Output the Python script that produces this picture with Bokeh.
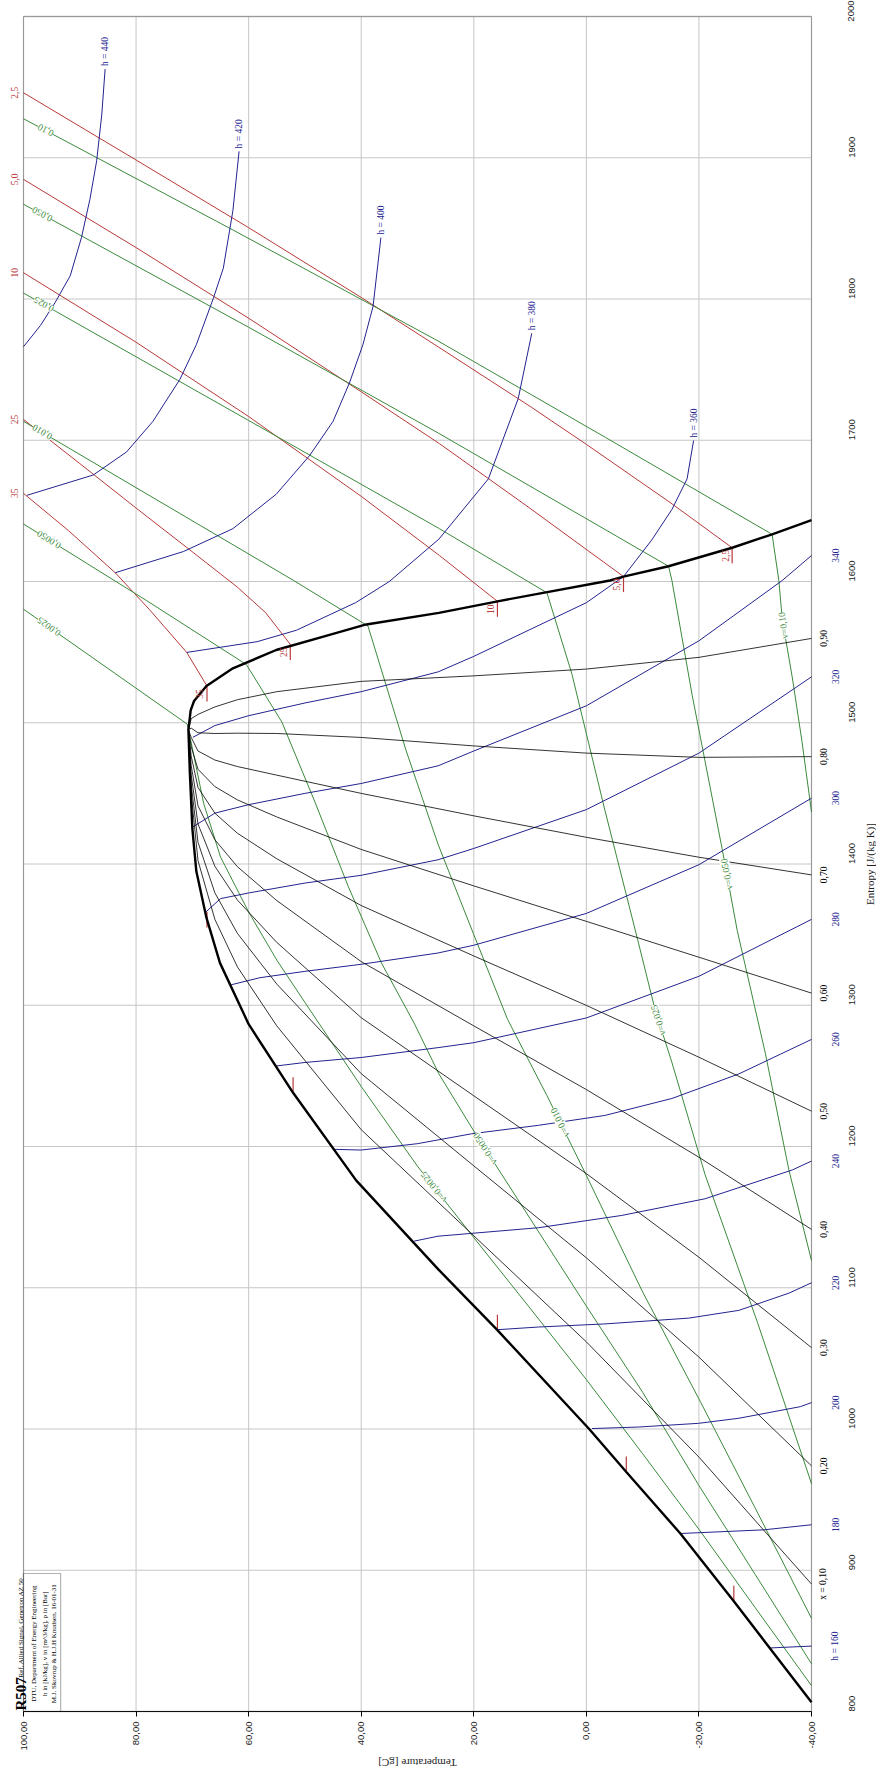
import math
import numpy as np
from bokeh.plotting import figure
from bokeh.models import (Range1d, FixedTicker, LabelSet, ColumnDataSource, Label,
                          BoxAnnotation, CustomJSTickFormatter)
from bokeh.core.properties import value
from bokeh.embed import file_html
from bokeh.resources import INLINE

# ---------------- axes ----------------
T_TICKS = [100, 80, 60, 40, 20, 0, -20, -40]
T_TICK_LABELS = ["100,00", "80,00", "60,00", "40,00", "20,00", "0,00", "-20,00", "-40,00"]
S_TICKS = [800, 900, 1000, 1100, 1200, 1300, 1400, 1500, 1600, 1700, 1800, 1900, 2000]
S_TICK_LABELS = ["800", "900", "1000", "1100", "1200", "1300", "1400", "1500",
                 "1600", "1700", "1800", "1900", "2000"]
T_MIN, T_MAX = -40, 100
S_MIN, S_MAX = 800, 2000

# ---------------- saturation dome (T degC, s J/(kg K)) ----------------
liq_T = [-40, -26.2, -16.7, -7.1, -0.5, 15.8, 26.3, 40.9, 52.1, 60.0, 65.1, 67.5, 69.3, 70.0, 70.45, 70.7]
liq_s = [806.5, 878.0, 926.0, 969.5, 1000.0, 1070.0, 1113.0, 1176.0, 1238.0, 1286.6, 1330.0, 1362.0, 1395.0, 1425.0, 1465.0, 1495.0]
vap_T = [70.7, 70.3, 69.7, 67.5, 62.8, 55.1, 45.0, 39.1, 26.2, 16.0, -4.2, -6.6, -14.6, -25.9, -33.0, -40]
vap_s = [1495.0, 1508.7, 1515.4, 1526.0, 1538.5, 1551.5, 1562.9, 1569.6, 1577.8, 1585.8, 1600.7, 1603.5, 1610.8, 1623.9, 1633.4, 1643.4]

# ---------------- quality lines ----------------
quality_T = [-40, -20, 0, 20, 40, 55, 62, 66, 69, 70.2, 70.7]
x10_s = [890.2, 980.1, 1061.7, 1136.8, 1211.9, 1285.4, 1327.2, 1360.8, 1402.4, 1449.7, 1495]
x20_s = [973.9, 1050.9, 1121.2, 1186.3, 1251.6, 1315.0, 1350.9, 1379.6, 1415.4, 1456.3, 1495]
x30_s = [1057.6, 1121.6, 1180.8, 1235.9, 1291.2, 1344.5, 1374.5, 1398.4, 1428.3, 1463.0, 1495]
x40_s = [1141.3, 1192.4, 1240.3, 1285.4, 1330.9, 1374.1, 1398.1, 1417.2, 1441.2, 1469.6, 1495]
x50_s = [1225.0, 1263.2, 1299.9, 1334.9, 1370.6, 1403.7, 1421.8, 1436.0, 1454.2, 1476.3, 1495]
x60_s = [1308.6, 1334.0, 1359.4, 1384.5, 1410.3, 1433.3, 1445.4, 1454.8, 1467.1, 1482.9, 1495]
x70_s = [1392.3, 1404.8, 1418.9, 1434.1, 1450.0, 1462.9, 1469.0, 1473.6, 1480.0, 1489.6, 1495]
x80_s = [1476.0, 1475.5, 1478.5, 1483.6, 1489.6, 1492.4, 1492.6, 1492.4, 1492.9, 1496.2, 1495]
x90_s = [1559.7, 1546.3, 1538.0, 1533.2, 1529.3, 1522.0, 1516.3, 1511.2, 1505.9, 1502.9, 1495]
quality_labels = ["x = 0,10", "0,20", "0,30", "0,40", "0,50", "0,60", "0,70", "0,80", "0,90"]

# ---------------- enthalpy lines (kJ/kg) ----------------
h160_T = [-40, -36, -32.7];                       h160_s = [846.3, 845.6, 845.0]
h180_T = [-40, -31.5, -16.7];                     h180_s = [932.2, 928.6, 926.0]
h200_T = [-40, -38, -27.1, -19.9, -9.3, -1.0];    h200_s = [1018.7, 1015.8, 1007.6, 1004.0, 1001.4, 1000.3]
h220_T = [-40, -36, -27.1, -18.2, -3.3, 8.5, 15.8]
h220_s = [1103.5, 1096.2, 1084.0, 1078.5, 1074.4, 1072.2, 1070.3]
h240_T = [-40, -36.6, -21.1, -6.3, 8.5, 26.35, 30.6]
h240_s = [1189.7, 1183.4, 1163.0, 1151.2, 1142.5, 1136.5, 1133.0]
h260_T = [-40, -27.1, -15.2, -3.3, 8.5, 20.4, 30, 40, 45]
h260_s = [1275.8, 1251.4, 1234.0, 1222.0, 1215.0, 1209.0, 1202.0, 1197.5, 1198.0]
h280_T = [-40, -20, 0, 20, 26.35, 40, 50, 55.1]
h280_s = [1360.8, 1320.5, 1291.0, 1273.5, 1270.0, 1263.0, 1259.5, 1257.0]
h300_T = [-40, -20, 0, 20, 26.35, 40, 50, 58, 63.1]
h300_s = [1446.6, 1399.5, 1365.0, 1342.5, 1337.0, 1329.0, 1324.0, 1319.5, 1314.5]
h320_T = [-40, -20, 0, 20, 26.35, 40, 50, 60, 65, 67.6]
h320_s = [1532.5, 1478.5, 1438.5, 1411.0, 1403.0, 1392.0, 1386.5, 1379.5, 1375.5, 1366.0]
h340_T = [-40, -34.8, -20, 0, 20, 26.35, 40, 50, 60, 66, 70]
h340_s = [1618.4, 1600.7, 1558.0, 1512.0, 1480.0, 1469.5, 1457.0, 1450.0, 1442.0, 1436.0, 1426.0]
h360_T = [-19.05, -17.9, -15.2, -11.6, -6.6, 0, 10, 20, 26.35, 40, 50, 60, 66, 69.9]
h360_s = [1699.8, 1672.7, 1651.0, 1629.3, 1603.5, 1585.0, 1566.0, 1547.0, 1536.0, 1522.0, 1514.0, 1505.0, 1498.0, 1489.7]
h380_T = [9.7, 12.1, 17.4, 26.2, 35, 41, 51.5, 58.5, 71]
h380_s = [1775.7, 1729.6, 1672.7, 1630.0, 1600.0, 1585.0, 1565.5, 1557.4, 1549.8]
h400_T = [36.5, 37.9, 39.7, 42.1, 45.0, 49.2, 55.1, 62.8, 71.6, 83.7]
h400_s = [1843.5, 1794.7, 1767.6, 1740.5, 1713.4, 1689.0, 1661.8, 1637.4, 1621.2, 1606.2]
h420_T = [61.7, 62.8, 64.5, 66.3, 69.3, 72.2, 77.0, 81.7, 87.6, 99.4]
h420_s = [1904.5, 1862.5, 1821.8, 1800.1, 1767.6, 1743.2, 1713.4, 1691.7, 1675.4, 1661.0]
h440_T = [85.5, 86.1, 87.0, 88.2, 89.7, 91.7, 94.4, 97.0, 100]
h440_s = [1962.8, 1930.3, 1897.8, 1870.6, 1843.5, 1816.4, 1797.4, 1781.2, 1766.2]
h_edge_labels = ["h = 160", "180", "200", "220", "240", "260", "280", "300", "320", "340"]
h_top_labels = ["h = 360", "h = 380", "h = 400", "h = 420", "h = 440"]

# ---------------- isobars (bar) ----------------
p2_5_T = [100, 80, 60, 40, 26.35, 10, 0, -15, -25.9]
p2_5_s = [1946.0, 1898.4, 1850.5, 1801.1, 1766.2, 1724.0, 1697.1, 1655.6, 1623.9]
p5_T = [100, 80, 60, 40, 26.1, 10, -6.6]
p5_s = [1884.7, 1836.4, 1786.4, 1734.3, 1697.6, 1651.8, 1603.5]
p10_T = [100, 80, 60, 40, 26.1, 15.8]
p10_s = [1818.6, 1769.4, 1716.8, 1660.3, 1618.4, 1586.0]
p25_T = [100, 90, 80, 70, 62, 57, 52.6]
p25_s = [1714.7, 1683.5, 1652.0, 1621.0, 1596.0, 1578.0, 1555.5]
p35_T = [100, 92, 83.7, 77.6, 71, 67.4]
p35_s = [1662.4, 1636.0, 1606.2, 1580.0, 1549.8, 1526.0]
p_labels = ["2,5", "5,0", "10", "25", "35"]
psat_liq_T = [-26.2, -7.1, 15.8, 52.1, 67.4]
psat_liq_s = [878.0, 969.5, 1070.0, 1238.0, 1355.0]

# ---------------- isochores (m3/kg) ----------------
v_10_T = [100, 62.8, 26.35, -3.4, -33.0, -34.2, -34.8, -36.6, -38.3, -40]
v_10_s = [1927.6, 1848.9, 1770.3, 1702.0, 1633.4, 1600.7, 1573.5, 1531.7, 1487.0, 1436.9]
v_050_T = [100, 60, 26.35, -14.6, -15.2, -18.8, -24.1, -26.8, -31.8, -36.0, -40]
v_050_s = [1867.1, 1780.0, 1705.2, 1610.8, 1600.7, 1519.5, 1411.2, 1353.0, 1266.0, 1183.0, 1119.3]
v_025_T = [100, 60, 26.1, 7.0, 2.6, -3.3, -9.3, -12.2, -15.2, -21.1, -30.4, -40]
v_025_s = [1804.2, 1714.0, 1637.4, 1592.0, 1535.0, 1438.0, 1343.5, 1297.0, 1259.5, 1180.0, 1075.5, 961.3]
v_010_T = [100, 52, 38.8, 32, 26.35, 20, 14, 7, 0.3, -10, -20.3, -30, -40]
v_010_s = [1713.4, 1600.7, 1568.5, 1480.0, 1414.0, 1350.0, 1290.0, 1236.0, 1182.0, 1097.0, 1019.0, 944.0, 866.0]
v_0050_T = [100, 78.1, 60.4, 54.1, 48.2, 42.3, 36.4, 30.5, 26.2, 20, 10, 0, -10, -20, -30, -40]
v_0050_s = [1640.7, 1586.4, 1541.2, 1500.5, 1443.7, 1384.1, 1329.9, 1286.6, 1251.4, 1211.0, 1149.0, 1087.0, 1026.0, 960.0, 897.0, 833.8]
v_0025_T = [100, 70.9, 70.0, 68, 65, 60, 55, 50, 40, 30, 20, 10, 0, -10, -20, -30, -40]
v_0025_s = [1580.4, 1499.0, 1482.0, 1443.0, 1405.0, 1366.0, 1332.0, 1302.0, 1242.5, 1186.0, 1135.5, 1085.5, 1035.0, 982.5, 929.0, 873.5, 818.3]
v_left_labels = ["0,10", "0,050", "0,025", "0,010", "0,0050", "0,0025"]
v_left_T = [96.1, 96.7, 96.4, 96.7, 95.5, 95.5]
v_dome_labels = ["v=0,10", "v=0,050", "v=0,025", "v=0,010", "v=0,0050", "v=0,0025"]
v_dome_T = [-35.0, -24.95, -12.8, 4.65, 17.97, 27.1]

# ---------------- styling / layout ----------------
CANVAS_W, CANVAS_H = 876, 1771
FRAME_L, FRAME_T, FRAME_W, FRAME_H = 23, 16, 788, 1695
KX = FRAME_W / (T_MAX - T_MIN)
KY = FRAME_H / (S_MAX - S_MIN)
RED, GREEN, BLUE = "#b83a3a", "#3b8a3b", "#23238f"
GRID = "#c6c6c6"
SERIF, SANS = "Liberation Serif", "Liberation Sans"

x_start = T_MAX + FRAME_L / KX
x_end = T_MIN - (CANVAS_W - FRAME_L - FRAME_W) / KX
y_end = S_MAX + FRAME_T / KY
y_start = S_MIN - (CANVAS_H - FRAME_T - FRAME_H) / KY

p = figure(width=CANVAS_W, height=CANVAS_H, x_range=Range1d(x_start, x_end),
           y_range=Range1d(y_start, y_end), output_backend="svg", toolbar_location=None,
           y_axis_location="right", min_border=0)
p.background_fill_color = "white"
p.border_fill_color = "white"
p.outline_line_color = None
p.grid.visible = False

fmt_code = "const i = t.indexOf(tick); return i < 0 ? '' : l[i];"
xa = p.xaxis[0]
xa.fixed_location = S_MIN
xa.bounds = (T_MIN, T_MAX)
xa.ticker = FixedTicker(ticks=T_TICKS)
xa.formatter = CustomJSTickFormatter(args=dict(t=T_TICKS, l=T_TICK_LABELS), code=fmt_code)
xa.major_label_orientation = math.pi / 2
xa.major_label_text_font = SANS
xa.major_label_text_font_size = "9.5px"
xa.major_label_text_color = "#222222"
xa.major_tick_in = 0
xa.major_tick_out = 5
xa.major_label_standoff = 5
xa.minor_tick_line_color = None
xa.axis_line_color = "black"

ya = p.yaxis[0]
ya.fixed_location = T_MIN
ya.bounds = (S_MIN, S_MAX)
ya.ticker = FixedTicker(ticks=S_TICKS)
ya.formatter = CustomJSTickFormatter(args=dict(t=S_TICKS, l=S_TICK_LABELS), code=fmt_code)
ya.major_label_orientation = math.pi / 2
ya.major_label_text_font = SANS
ya.major_label_text_font_size = "9.5px"
ya.major_label_text_color = "#222222"
ya.major_tick_in = 0
ya.major_tick_out = 0
ya.major_label_standoff = 40
ya.minor_tick_line_color = None
ya.axis_line_color = None

# grid lines within the diagram frame
p.segment(x0=T_TICKS, y0=[S_MIN] * len(T_TICKS), x1=T_TICKS, y1=[S_MAX] * len(T_TICKS),
          line_color=GRID, line_width=1)
p.segment(x0=[T_MAX] * len(S_TICKS), y0=S_TICKS, x1=[T_MIN] * len(S_TICKS), y1=S_TICKS,
          line_color=GRID, line_width=1)

# ---------------- lines ----------------
isobars = [(p2_5_T, p2_5_s), (p5_T, p5_s), (p10_T, p10_s), (p25_T, p25_s), (p35_T, p35_s)]
isochores = [(v_10_T, v_10_s), (v_050_T, v_050_s), (v_025_T, v_025_s),
             (v_010_T, v_010_s), (v_0050_T, v_0050_s), (v_0025_T, v_0025_s)]
hlines = [(h160_T, h160_s), (h180_T, h180_s), (h200_T, h200_s), (h220_T, h220_s),
          (h240_T, h240_s), (h260_T, h260_s), (h280_T, h280_s), (h300_T, h300_s),
          (h320_T, h320_s), (h340_T, h340_s), (h360_T, h360_s), (h380_T, h380_s),
          (h400_T, h400_s), (h420_T, h420_s), (h440_T, h440_s)]
qlines = [x10_s, x20_s, x30_s, x40_s, x50_s, x60_s, x70_s, x80_s, x90_s]

for T, s in isobars:
    p.line(T, s, line_color=RED, line_width=1)
for T, s in isochores:
    p.line(T, s, line_color=GREEN, line_width=1)
for T, s in hlines:
    p.line(T, s, line_color=BLUE, line_width=1)
for s in qlines:
    p.line(quality_T, s, line_color="black", line_width=0.8)

# saturation ticks of isobars
TICK = 11.0
vapT = [T[-1] for T, s in isobars]
vapS = [s[-1] for T, s in isobars]
p.segment(x0=vapT, y0=vapS, x1=vapT, y1=[v - TICK for v in vapS], line_color=RED, line_width=1.2)
p.segment(x0=psat_liq_T, y0=psat_liq_s, x1=psat_liq_T, y1=[v + TICK for v in psat_liq_s],
          line_color=RED, line_width=1.2)

# dome
p.line(liq_T + vap_T, liq_s + vap_s, line_color="black", line_width=2.4)

# frame of the diagram
p.add_layout(BoxAnnotation(left=T_MAX, right=T_MIN, bottom=S_MIN, top=S_MAX, fill_color=None,
                           fill_alpha=0, line_color="#333333", line_width=1.3))


# ---------------- labels ----------------
def interp_on(Tq, T, s):
    T = np.asarray(T, float)
    s = np.asarray(s, float)
    o = np.argsort(T, kind="stable")
    return float(np.interp(Tq, T[o], s[o]))


def along(Tq, T, s, d=1.0):
    sa = interp_on(Tq + d, T, s)
    sb = interp_on(Tq - d, T, s)
    return math.atan2((sa - sb) * KY, -(2 * d) * KX)


def labelset(xs, ys, texts, color, size, angle, align="center", baseline="middle",
             xoff=0, yoff=0, font=SERIF, bg=None):
    data = dict(x=list(xs), y=list(ys), t=list(texts))
    if isinstance(angle, (list, tuple)):
        data["a"] = list(angle)
        ang = "a"
    else:
        ang = angle
    src = ColumnDataSource(data)
    ls = LabelSet(x="x", y="y", text="t", source=src, angle=ang, text_color=color,
                  text_font=value(font), text_font_size=size, text_align=align,
                  text_baseline=baseline, x_offset=xoff, y_offset=yoff,
                  background_fill_color=bg)
    p.add_layout(ls)


# quality labels at right edge
labelset([T_MIN] * 9, [s[0] for s in qlines], quality_labels, "black", "9.5px", math.pi / 2, xoff=12)
# enthalpy labels at right edge
labelset([T_MIN] * 10, [s[0] for T, s in hlines[:10]], h_edge_labels,
         BLUE, "9.5px", math.pi / 2, xoff=24)
# enthalpy labels at top of superheated lines
labelset([T[0] for T, s in hlines[10:]], [s[0] for T, s in hlines[10:]], h_top_labels,
         BLUE, "9.5px", math.pi / 2, align="left", yoff=3)
# isobar labels at left edge
labelset([T[0] for T, s in isobars], [s[0] for T, s in isobars], p_labels,
         RED, "9.5px", math.pi / 2, xoff=-9)
# isobar labels at the vapour line
labelset(vapT, vapS, p_labels, RED, "9.5px", math.pi / 2, xoff=-7, yoff=-8)
# isochore labels near the left edge
labelset(v_left_T, [interp_on(t, T, s) for t, (T, s) in zip(v_left_T, isochores)],
         v_left_labels, GREEN, "9.5px",
         [along(t, T, s) for t, (T, s) in zip(v_left_T, isochores)], bg="white")
# isochore labels inside the dome
labelset(v_dome_T, [interp_on(t, T, s) for t, (T, s) in zip(v_dome_T, isochores)],
         v_dome_labels, GREEN, "9.5px",
         [along(t, T, s) for t, (T, s) in zip(v_dome_T, isochores)], bg="white")

# axis titles
p.add_layout(Label(x=(T_MIN + T_MAX) / 2, y=S_MIN, y_offset=-51, text="Temperature [gC]",
                   angle=math.pi, text_align="center", text_baseline="middle", text_font=SERIF,
                   text_font_size="11px", text_color="#222222"))
p.add_layout(Label(x=T_MIN, y=(S_MIN + S_MAX) / 2, x_offset=58, text="Entropy [J/(kg K)]",
                   angle=math.pi / 2, text_align="center", text_baseline="middle",
                   text_font=SERIF, text_font_size="11px", text_color="#222222"))

# title block
p.add_layout(BoxAnnotation(left=T_MAX, right=93.4, bottom=S_MIN, top=897.7, fill_color=None,
                           fill_alpha=0, line_color="black", line_width=1.2))
p.add_layout(Label(x=T_MAX, y=S_MIN, x_offset=-3, y_offset=1, text="R507", angle=math.pi / 2,
                   text_align="left", text_baseline="alphabetic", text_font=SERIF,
                   text_font_style="bold", text_font_size="15px", text_color="black"))
p.add_layout(Label(x=T_MAX, y=S_MIN, x_offset=-3, y_offset=34,
                   text="Ref. Allied Signal, Genetron AZ 50", angle=math.pi / 2,
                   text_align="left", text_baseline="alphabetic", text_font=SERIF,
                   text_font_size="7px", text_color="black"))
box_lines = ["DTU, Department of Energy Engineering",
             "h in [kJ/kg], v in [m^3/kg], p in [Bar]",
             "M.J. Skovrup & H.J.H Knudsen. 16-01-31"]
for txt, off in zip(box_lines, [10.5, 21, 30]):
    p.add_layout(Label(x=T_MAX, y=848, x_offset=off, text=txt, angle=math.pi / 2,
                       text_align="center", text_baseline="middle", text_font=SERIF,
                       text_font_size="7px", text_color="black"))

open("out.html", "w").write(file_html(p, INLINE))
